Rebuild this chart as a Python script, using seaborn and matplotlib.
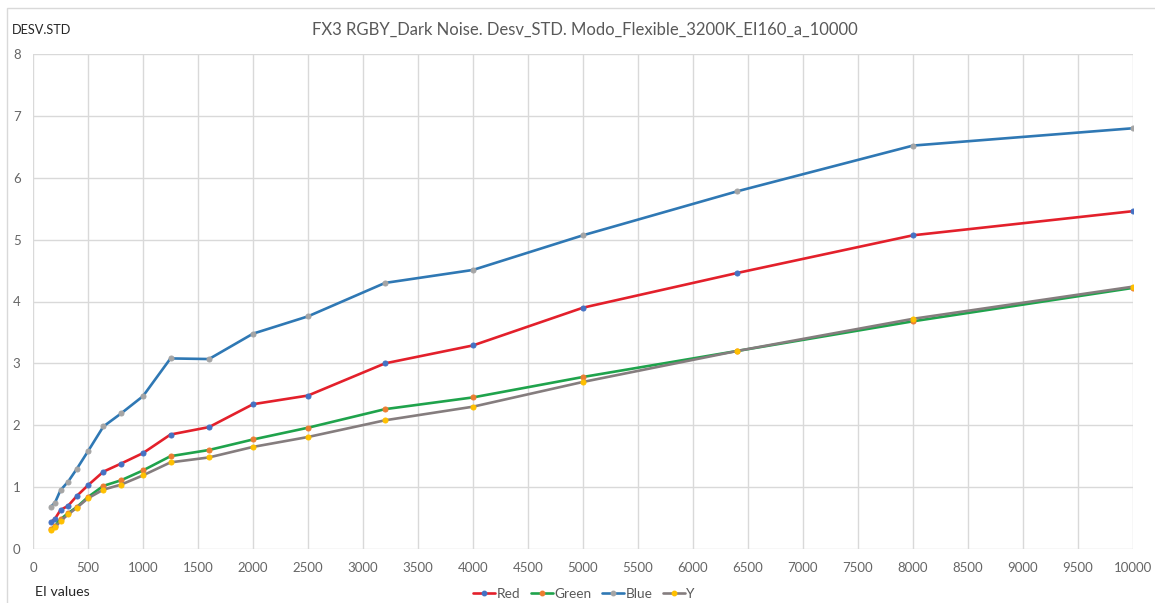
import matplotlib
matplotlib.use("Agg")
import matplotlib.pyplot as plt
import matplotlib.patches as mpatches
from matplotlib.lines import Line2D
import seaborn as sns
import pandas as pd

# EI settings measured and the dark-noise standard deviation per channel
ei_values = [160, 200, 250, 320, 400, 500, 640, 800, 1000, 1250, 1600,
             2000, 2500, 3200, 4000, 5000, 6400, 8000, 10000]
red = [0.43, 0.49, 0.63, 0.70, 0.86, 1.03, 1.25, 1.38, 1.55, 1.85, 1.97,
       2.34, 2.48, 3.00, 3.29, 3.90, 4.46, 5.07, 5.46]
green = [0.32, 0.37, 0.48, 0.58, 0.68, 0.84, 1.02, 1.11, 1.27, 1.50, 1.60,
         1.77, 1.96, 2.26, 2.45, 2.78, 3.20, 3.68, 4.22]
blue = [0.68, 0.75, 0.95, 1.09, 1.30, 1.58, 1.98, 2.19, 2.47, 3.08, 3.07,
        3.48, 3.76, 4.30, 4.51, 5.07, 5.78, 6.52, 6.80]
yellow = [0.31, 0.35, 0.45, 0.56, 0.67, 0.82, 0.96, 1.04, 1.19, 1.40, 1.48,
          1.65, 1.81, 2.08, 2.30, 2.70, 3.20, 3.72, 4.24]

series_names = ["Red", "Green", "Blue", "Y"]
line_colors = ["#e3202b", "#1fa34c", "#2f78b4", "#857d7e"]
marker_colors = ["#4472c4", "#ed7d31", "#a5a5a5", "#ffc000"]

x_ticks = list(range(0, 10001, 500))
y_ticks = list(range(0, 9))

sns.set_theme(style="white")
plt.rcParams["font.family"] = ["Lato", "DejaVu Sans"]

fig = plt.figure(figsize=(11.55, 6.03), dpi=100)
ax = fig.add_axes([33 / 1155, 1 - 549 / 603, 1100 / 1155, 495 / 603])

# chart-area outline
fig.patches.append(mpatches.Rectangle((7 / 1155, -0.01), 1.0, 1 - 8 / 603 + 0.01,
                                      transform=fig.transFigure, fill=False,
                                      edgecolor="#d9d9d9", linewidth=1.0))

df = pd.DataFrame({"EI": ei_values * 4,
                   "value": red + green + blue + yellow,
                   "series": sum([[n] * len(ei_values) for n in series_names], [])})

for name, lc, mc in zip(series_names, line_colors, marker_colors):
    sub = df[df["series"] == name]
    sns.lineplot(data=sub, x="EI", y="value", ax=ax, color=lc, linewidth=1.9,
                 marker="o", markersize=3.6, markerfacecolor=mc,
                 markeredgecolor=mc, legend=False)

ax.set_xlim(0, 10000)
ax.set_ylim(0, 8)
ax.set_xticks(x_ticks)
ax.set_yticks(y_ticks)
ax.grid(True, color="#d9d9d9", linewidth=1.0)
for s in ax.spines.values():
    s.set_visible(False)
ax.tick_params(axis="both", length=0, labelsize=9.5, colors="#666666", pad=9)
ax.set_xlabel("")
ax.set_ylabel("")

fig.text(585 / 1155, 1 - 30 / 603, "FX3 RGBY_Dark Noise. Desv_STD. Modo_Flexible_3200K_EI160_a_10000",
         ha="center", va="center", fontsize=12, color="#595959")
fig.text(12 / 1155, 1 - 30 / 603, "DESV.STD", ha="left", va="center",
         fontsize=9.2, color="#262626")
fig.text(35 / 1155, 1 - 592 / 603, "EI values", ha="left", va="center",
         fontsize=10.2, color="#262626")

handles = [Line2D([0], [0], color=lc, linewidth=1.9, marker="o", markersize=3.2,
                  markerfacecolor=mc, markeredgecolor=mc)
           for lc, mc in zip(line_colors, marker_colors)]
leg = fig.legend(handles, series_names, loc="center", bbox_to_anchor=(584 / 1155, 1 - 594 / 603),
                 ncol=4, frameon=False, fontsize=9.8, handlelength=1.6,
                 handletextpad=0.1, columnspacing=0.8, labelcolor="#595959")

fig.savefig("out.png", dpi=100)
